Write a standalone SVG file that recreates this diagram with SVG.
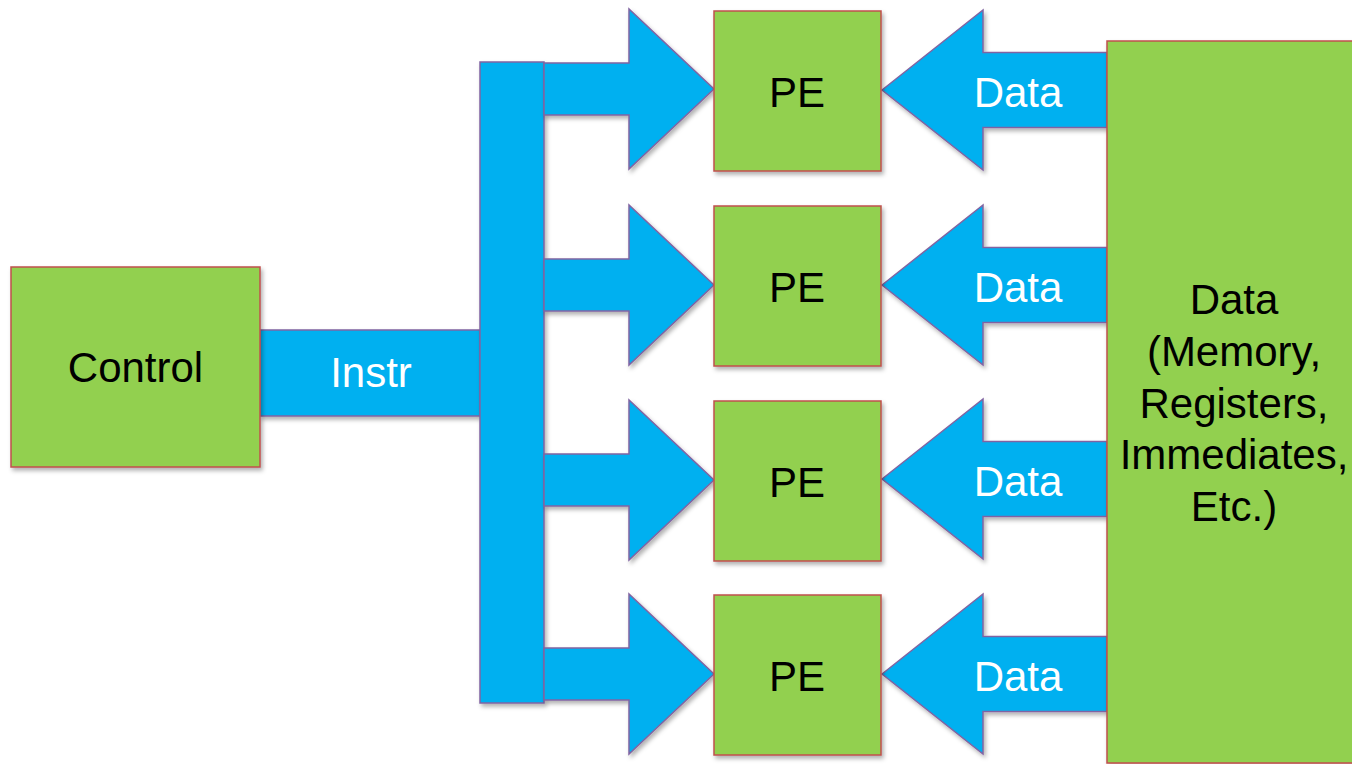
<svg xmlns="http://www.w3.org/2000/svg" width="1352" height="764" viewBox="0 0 1352 764">
  <defs>
    <filter id="sh" x="-10%" y="-10%" width="130%" height="130%">
      <feDropShadow dx="2" dy="3" stdDeviation="2" flood-color="#000" flood-opacity="0.3"/>
    </filter>
  </defs>
  <style>
    .node { fill: #92D050; stroke: #C0504D; stroke-width: 1.5; filter: url(#sh); }
    .conn { fill: #00B0F0; stroke: #8064A2; stroke-width: 1.5; stroke-linejoin: miter; filter: url(#sh); }
    .lbl { font-family: "Liberation Sans", Arial, sans-serif; font-size: 42px; text-anchor: middle; fill: #000; }
    .wlbl { font-family: "Liberation Sans", Arial, sans-serif; font-size: 42px; text-anchor: middle; fill: #fff; }
  </style>
  <rect width="1352" height="764" fill="#fff"/>

  <g id="connectors">
    <rect class="conn" x="260" y="330" width="220" height="86"/>
    <text class="wlbl" x="371" y="387">Instr</text>
    <rect class="conn" x="480" y="62" width="64" height="641"/>
    <polygon class="conn" points="544,63 629,63 629,9 714,89 629,169 629,115 544,115"/>
    <polygon class="conn" points="544,259 629,259 629,205 714,285 629,365 629,311 544,311"/>
    <polygon class="conn" points="544,454 629,454 629,400 714,480 629,560 629,506 544,506"/>
    <polygon class="conn" points="544,648 629,648 629,594 714,674 629,754 629,700 544,700"/>
    <polygon class="conn" points="882,90 983,10 983,52.5 1107,52.5 1107,127.5 983,127.5 983,170"/>
    <polygon class="conn" points="882,285 983,205 983,247.5 1107,247.5 1107,322.5 983,322.5 983,365"/>
    <polygon class="conn" points="882,479 983,399 983,441.5 1107,441.5 1107,516.5 983,516.5 983,559"/>
    <polygon class="conn" points="882,674 983,594 983,636.5 1107,636.5 1107,711.5 983,711.5 983,754"/>
    <text class="wlbl" x="1018" y="107">Data</text>
    <text class="wlbl" x="1018" y="302">Data</text>
    <text class="wlbl" x="1018" y="496">Data</text>
    <text class="wlbl" x="1018" y="691">Data</text>
  </g>

  <g id="control">
    <rect class="node" x="11" y="267" width="249" height="200"/>
    <text class="lbl" x="135.5" y="382">Control</text>
  </g>
  <g id="pe1">
    <rect class="node" x="714" y="11" width="167" height="160"/>
    <text class="lbl" x="797" y="107">PE</text>
  </g>
  <g id="pe2">
    <rect class="node" x="714" y="206" width="167" height="160"/>
    <text class="lbl" x="797" y="302">PE</text>
  </g>
  <g id="pe3">
    <rect class="node" x="714" y="401" width="167" height="160"/>
    <text class="lbl" x="797" y="497">PE</text>
  </g>
  <g id="pe4">
    <rect class="node" x="714" y="595" width="167" height="160"/>
    <text class="lbl" x="797" y="691">PE</text>
  </g>
  <g id="data">
    <rect class="node" x="1107" y="41" width="260" height="722"/>
    <text class="lbl" x="1234" y="314">Data</text>
    <text class="lbl" x="1234" y="366">(Memory,</text>
    <text class="lbl" x="1234" y="418">Registers,</text>
    <text class="lbl" x="1234" y="469">Immediates,</text>
    <text class="lbl" x="1234" y="521">Etc.)</text>
  </g>
</svg>
